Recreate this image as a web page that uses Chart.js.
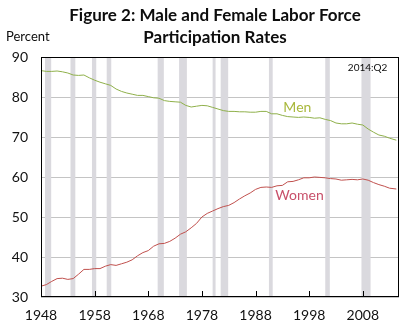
<!DOCTYPE html>
<html>
<head>
<meta charset="utf-8">
<script src="https://cdn.jsdelivr.net/npm/chart.js@4"></script>
<style>
  html, body { margin: 0; padding: 0; background: #fff; }
  canvas { display: block; }
</style>
</head>
<body>
<canvas id="lfpr" width="407" height="327"></canvas>
<script>
// labor force participation, percent (~yearly)
var years = [1948,1949,1950,1951,1952,1953,1954,1955,1956,1957,
  1958,1959,1960,1961,1962,1963,1964,1965,1966,1967,
  1968,1969,1970,1971,1972,1973,1974,1975,1976,1977,
  1978,1979,1980,1981,1982,1983,1984,1985,1986,1987,
  1988,1989,1990,1991,1992,1993,1994,1995,1996,1997,
  1998,1999,2000,2001,2002,2003,2004,2005,2006,2007,
  2008,2009,2010,2011,2012,2013,2014.25];

var men = [86.6,86.4,86.4,86.5,86.3,86.0,85.5,85.4,85.5,84.8,
  84.2,83.7,83.3,82.9,82.0,81.4,81.0,80.7,80.4,80.4,
  80.1,79.8,79.7,79.1,78.9,78.8,78.7,77.9,77.5,77.7,
  77.9,77.8,77.4,77.0,76.6,76.4,76.4,76.3,76.3,76.2,
  76.2,76.4,76.4,75.8,75.8,75.4,75.1,75.0,74.9,75.0,
  74.9,74.7,74.8,74.4,74.1,73.5,73.3,73.3,73.5,73.2,
  73.0,72.0,71.2,70.5,70.2,69.7,69.2];

var women = [32.7,33.1,33.9,34.6,34.7,34.4,34.6,35.7,36.9,36.9,
  37.1,37.1,37.7,38.1,37.9,38.3,38.7,39.3,40.3,41.1,
  41.6,42.7,43.3,43.4,43.9,44.7,45.7,46.3,47.3,48.4,
  50.0,50.9,51.5,52.1,52.6,52.9,53.6,54.5,55.3,56.0,
  56.9,57.4,57.5,57.4,57.8,57.9,58.8,58.9,59.3,59.8,
  59.8,60.0,59.9,59.8,59.6,59.5,59.2,59.3,59.4,59.3,
  59.5,59.2,58.6,58.1,57.7,57.2,57.0];

// recessions (start, end) in fractional years
var recStart = [1948.75,1953.5,1957.5,1960.25,1969.75,1973.75,1980.0,1981.5,1990.5,2001.0,2007.75];
var recEnd   = [1949.9,1954.4,1958.3,1961.1,1970.9,1975.2,1980.55,1982.9,1991.2,2001.85,2009.45];

var xTicks = [1948,1958,1968,1978,1988,1998,2008];
var yTicks = [30,40,50,60,70,80,90];

var fontFam = "Lato, 'Open Sans', sans-serif";

function pairs(xs, ys){
  var out = [];
  for (var i = 0; i < xs.length; i++) out.push({x: xs[i], y: ys[i]});
  return out;
}

var recessionBars = {
  id: 'recessionBars',
  beforeDatasetsDraw: function(chart){
    var c = chart.ctx, a = chart.chartArea, xs = chart.scales.x;
    c.save();
    c.fillStyle = 'rgb(218,217,222)';
    for (var i = 0; i < recStart.length; i++) {
      var x0 = xs.getPixelForValue(recStart[i]);
      var x1 = xs.getPixelForValue(recEnd[i]);
      c.fillRect(x0, a.top, x1 - x0, a.bottom - a.top);
    }
    c.restore();
  }
};

var extras = {
  id: 'extras',
  afterDraw: function(chart){
    var c = chart.ctx, a = chart.chartArea, xs = chart.scales.x, ys = chart.scales.y;
    c.save();
    // frame
    c.strokeStyle = '#000';
    c.lineWidth = 1;
    c.strokeRect(Math.round(a.left) + 0.5, Math.round(a.top) + 0.5,
      Math.round(a.right - a.left) - 1, Math.round(a.bottom - a.top) - 1);
    // inside tick marks on x
    c.beginPath();
    xTicks.forEach(function(t){
      var px = Math.round(xs.getPixelForValue(t)) + 0.5;
      c.moveTo(px, a.bottom);
      c.lineTo(px, a.bottom - 6);
    });
    c.stroke();

    // titles
    c.fillStyle = '#0d0d0d';
    c.textAlign = 'center';
    c.textBaseline = 'middle';
    c.font = "bold 17px " + fontFam;
    c.fillText('Figure 2: Male and Female Labor Force', 215, 16);
    c.fillText('Participation Rates', 215, 38);
    c.font = "13px " + fontFam;
    c.textAlign = 'left';
    c.fillText('Percent', 6, 37);

    c.font = "10px " + fontFam;
    c.textAlign = 'center';
    c.fillText('2014:Q2', xs.getPixelForValue(2008.9), ys.getPixelForValue(87.3));

    c.font = "14px " + fontFam;
    c.fillStyle = '#a9b83c';
    c.fillText('Men', xs.getPixelForValue(1995.8), ys.getPixelForValue(77.5));
    c.fillStyle = '#c8506a';
    c.fillText('Women', xs.getPixelForValue(1996.2), ys.getPixelForValue(55.3));
    c.restore();
  }
};

new Chart(document.getElementById('lfpr'), {
  type: 'line',
  data: {
    datasets: [{
      label: 'Men',
      data: pairs(years, men),
      borderColor: '#8fb04a',
      borderWidth: 1,
      pointRadius: 0,
      tension: 0
    }, {
      label: 'Women',
      data: pairs(years, women),
      borderColor: '#c0504d',
      borderWidth: 1,
      pointRadius: 0,
      tension: 0
    }]
  },
  options: {
    responsive: false,
    animation: false,
    events: [],
    layout: { padding: { left: 0, right: 8, top: 57, bottom: 0 } },
    plugins: { legend: { display: false }, title: { display: false }, tooltip: { enabled: false } },
    scales: {
      x: {
        type: 'linear',
        min: 1948,
        max: 2014.75,
        afterBuildTicks: function(s){ s.ticks = xTicks.map(function(v){ return {value: v}; }); },
        afterFit: function(s){ s.height = 30; },
        grid: { display: false, drawTicks: false },
        border: { display: false },
        ticks: {
          padding: 10,
          autoSkip: false,
          maxRotation: 0,
          color: '#111',
          font: { family: fontFam, size: 14 },
          callback: function(v){ return String(v); }
        }
      },
      y: {
        min: 30,
        max: 90,
        afterBuildTicks: function(s){ s.ticks = yTicks.map(function(v){ return {value: v}; }); },
        afterFit: function(s){ s.width = 41; },
        grid: { color: '#c4c4c4', drawTicks: false },
        border: { display: false },
        ticks: {
          padding: 13,
          color: '#111',
          font: { family: fontFam, size: 14 }
        }
      }
    }
  },
  plugins: [recessionBars, extras]
});
</script>
</body>
</html>
